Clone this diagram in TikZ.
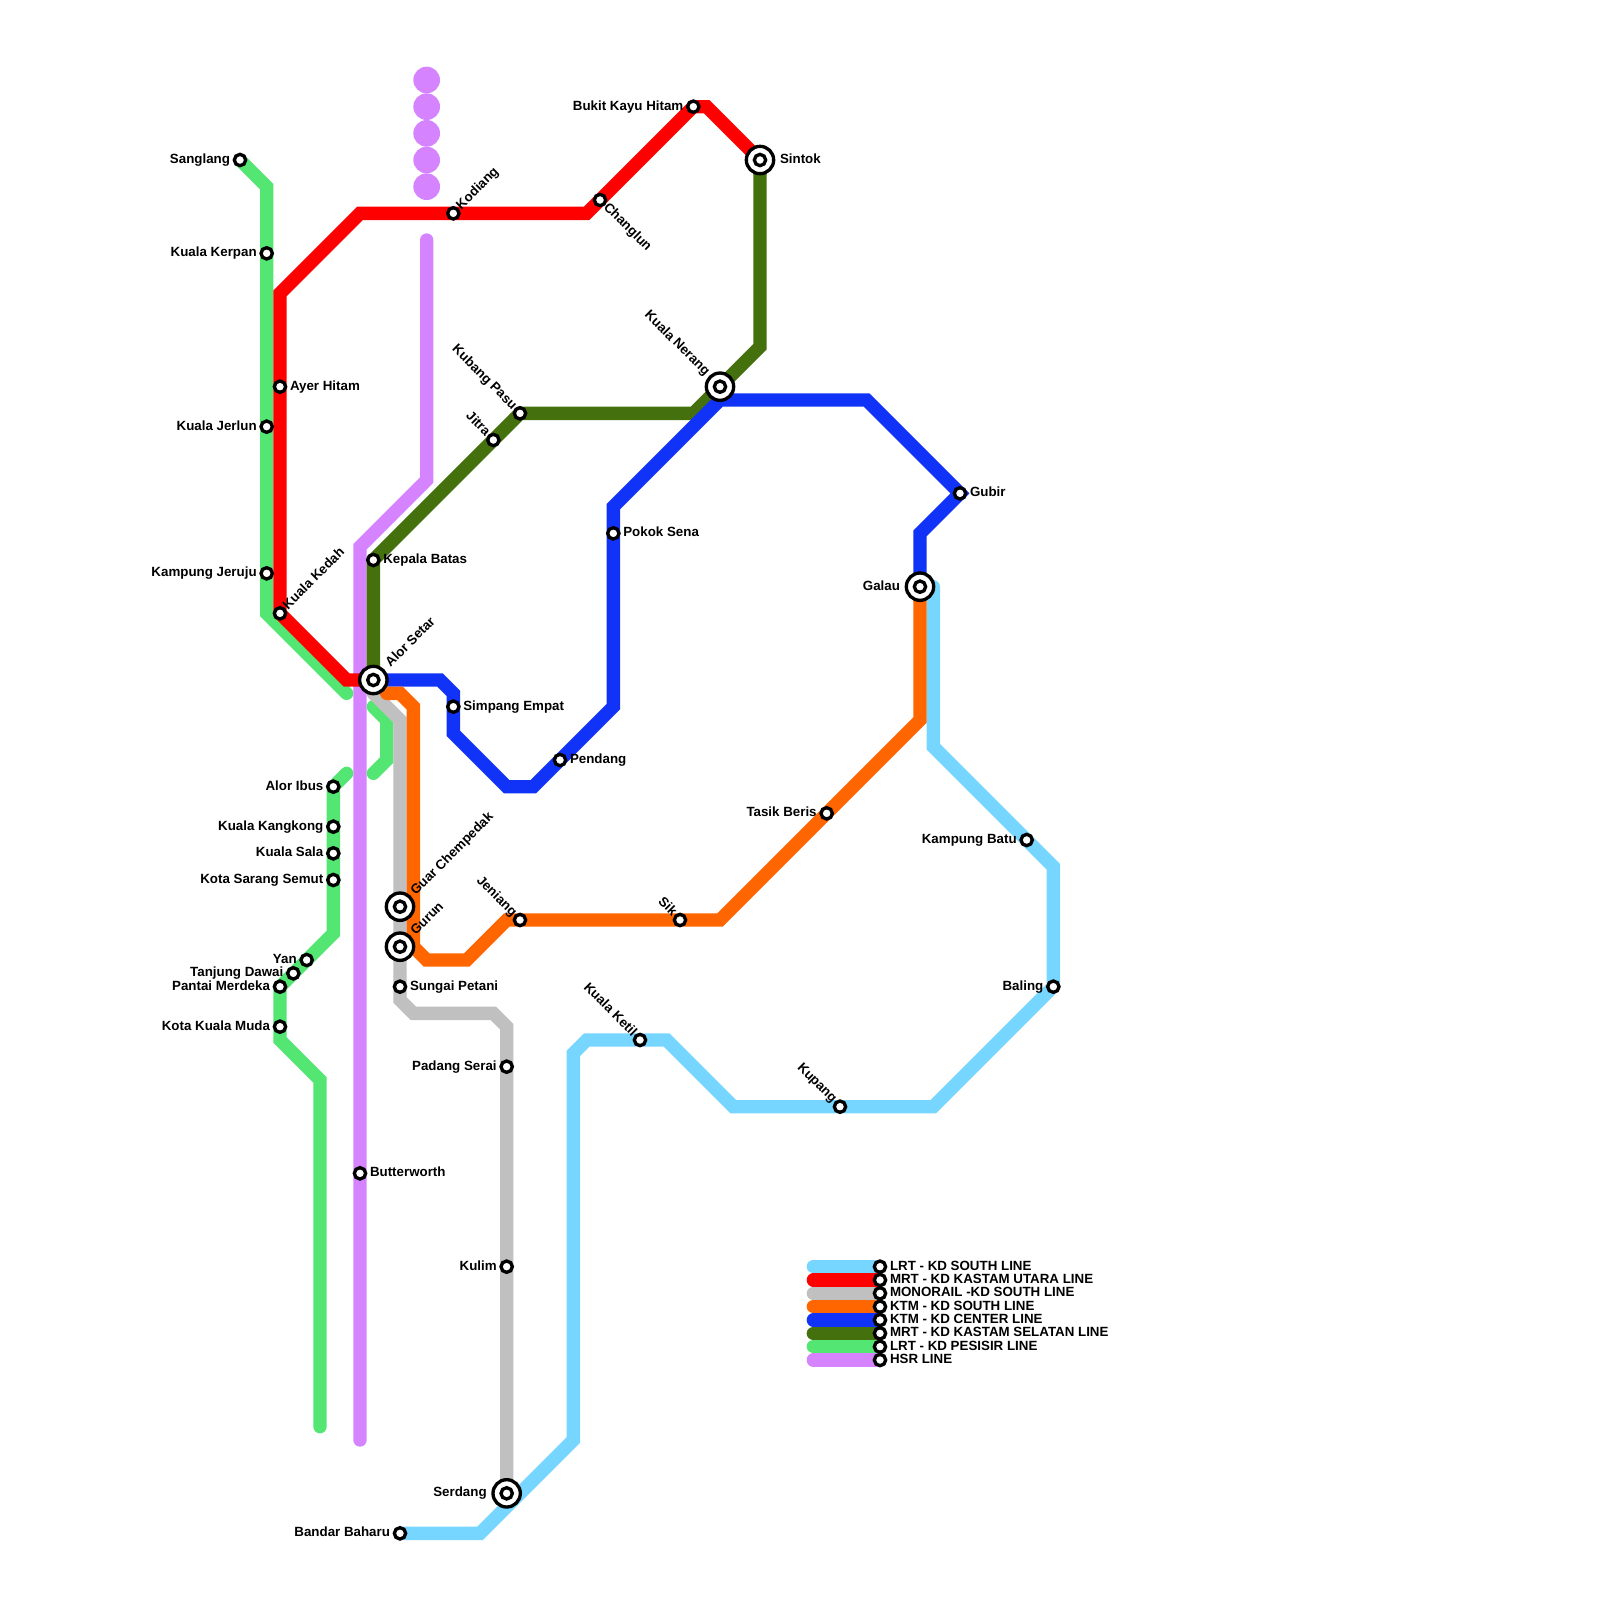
\documentclass[tikz,border=0pt]{standalone}
\usepackage{fontspec}
\setmainfont{Liberation Sans}
\pgfdeclarelayer{lines}
\pgfsetlayers{lines,main}
\definecolor{cLb}{HTML}{76D6FF}
\definecolor{cRe}{HTML}{FF0000}
\definecolor{cGy}{HTML}{C0C0C0}
\definecolor{cOr}{HTML}{FF6600}
\definecolor{cBl}{HTML}{1133F8}
\definecolor{cDg}{HTML}{45700E}
\definecolor{cGr}{HTML}{54E673}
\definecolor{cPu}{HTML}{D683FF}
\tikzset{
  x=6.6667pt,y=-6.6667pt,
  ln/.style={line width=6.6667pt,line cap=round,line join=miter},
  stn/.style={circle,draw=black,fill=white,line width=1.667pt,minimum size=5.67pt,inner sep=0pt,outer sep=0pt},
  xchg/.style={circle,draw=black,fill=white,line width=1.667pt,minimum size=13.67pt,inner sep=0pt,outer sep=0pt,
     label={[stn]center:{}}},
  txt/.style={font=\bfseries\fontsize{6.667}{8}\selectfont,inner sep=0pt,text=black,text height=4.9pt,text depth=1.4pt},
  lblR/.style={txt,anchor=west,outer sep=#1},lblR/.default=5pt,
  lblL/.style={txt,anchor=east,outer sep=#1},lblL/.default=5pt,
  lblUR/.style={txt,anchor=west,rotate=45,outer sep=#1},lblUR/.default=4pt,
  lblUL/.style={txt,anchor=east,rotate=-45,outer sep=#1},lblUL/.default=4pt,
  lblDR/.style={txt,anchor=west,rotate=-45,outer sep=#1},lblDR/.default=4pt,
  hsrdot/.style={circle,fill=cPu,minimum size=13.333pt,inner sep=0pt},
}
\newcommand\ST[5]{\node[stn] (#1) at (#2,#3) {}; \node[#4] (#1-t) at (#1.center) {#5};}
\newcommand\XC[5]{\node[xchg] (#1) at (#2,#3) {}; \node[#4] (#1-t) at (#1.center) {#5};}
\begin{document}
\begin{tikzpicture}
\useasboundingbox (0,0) rectangle (120,120);
% interchanges
\XC{alor}{28}{51}{lblUR=10.5pt}{Alor Setar}
\XC{sintok}{57}{12}{lblR=10pt}{Sintok}
\XC{nerang}{54}{29}{lblUL=9pt}{Kuala Nerang}
\XC{galau}{69}{44}{lblL=10pt}{Galau}
\XC{guar}{30}{68}{lblUR=9.5pt}{Guar Chempedak}
\XC{gurun}{30}{71}{lblUR=9.5pt}{Gurun}
\XC{serdang}{38}{112}{lblL=10pt}{Serdang}
% red
\ST{ayer}{21}{29}{lblR}{Ayer Hitam}
\ST{kedah}{21}{46}{lblUR}{Kuala Kedah}
\ST{kodiang}{34}{16}{lblUR}{Kodiang}
\ST{changlun}{45}{15}{lblDR}{Changlun}
\ST{bukit}{52}{8}{lblL}{Bukit Kayu Hitam}
% pesisir
\ST{sanglang}{18}{12}{lblL}{Sanglang}
\ST{kerpan}{20}{19}{lblL}{Kuala Kerpan}
\ST{jerlun}{20}{32}{lblL}{Kuala Jerlun}
\ST{jeruju}{20}{43}{lblL}{Kampung Jeruju}
\ST{ibus}{25}{59}{lblL}{Alor Ibus}
\ST{kangkong}{25}{62}{lblL}{Kuala Kangkong}
\ST{sala}{25}{64}{lblL}{Kuala Sala}
\ST{semut}{25}{66}{lblL}{Kota Sarang Semut}
\ST{yan}{23}{72}{lblL}{Yan}
\ST{dawai}{22}{73}{lblL}{Tanjung Dawai}
\ST{merdeka}{21}{74}{lblL}{Pantai Merdeka}
\ST{muda}{21}{77}{lblL}{Kota Kuala Muda}
% hsr
\ST{butter}{27}{88}{lblR}{Butterworth}
% dark green
\ST{pasu}{39}{31}{lblUL}{Kubang Pasu}
\ST{jitra}{37}{33}{lblUL}{Jitra}
\ST{kepala}{28}{42}{lblR}{Kepala Batas}
% blue
\ST{simpang}{34}{53}{lblR}{Simpang Empat}
\ST{pendang}{42}{57}{lblR}{Pendang}
\ST{pokok}{46}{40}{lblR}{Pokok Sena}
\ST{gubir}{72}{37}{lblR}{Gubir}
% orange
\ST{beris}{62}{61}{lblL}{Tasik Beris}
\ST{sik}{51}{69}{lblUL}{Sik}
\ST{jeniang}{39}{69}{lblUL}{Jeniang}
% grey
\ST{petani}{30}{74}{lblR}{Sungai Petani}
\ST{serai}{38}{80}{lblL}{Padang Serai}
\ST{kulim}{38}{95}{lblL}{Kulim}
% light blue
\ST{baharu}{30}{115}{lblL}{Bandar Baharu}
\ST{ketil}{48}{78}{lblUL}{Kuala Ketil}
\ST{kupang}{63}{83}{lblUL}{Kupang}
\ST{baling}{79}{74}{lblL}{Baling}
\ST{batu}{77}{63}{lblL}{Kampung Batu}
% legend
\ST{leg1}{66}{95}{lblR}{LRT - KD SOUTH LINE}
\ST{leg2}{66}{96}{lblR}{MRT - KD KASTAM UTARA LINE}
\ST{leg3}{66}{97}{lblR}{MONORAIL -KD SOUTH LINE}
\ST{leg4}{66}{98}{lblR}{KTM - KD SOUTH LINE}
\ST{leg5}{66}{99}{lblR}{KTM - KD CENTER LINE}
\ST{leg6}{66}{100}{lblR}{MRT - KD KASTAM SELATAN LINE}
\ST{leg7}{66}{101}{lblR}{LRT - KD PESISIR LINE}
\ST{leg8}{66}{102}{lblR}{HSR LINE}
\coordinate (s1) at (61,95);
\coordinate (s2) at (61,96);
\coordinate (s3) at (61,97);
\coordinate (s4) at (61,98);
\coordinate (s5) at (61,99);
\coordinate (s6) at (61,100);
\coordinate (s7) at (61,101);
\coordinate (s8) at (61,102);
\begin{pgfonlayer}{lines}
\fill[white] (0,0) rectangle (120,120);
% HSR
\node[hsrdot] (h1) at (32,6) {};
\node[hsrdot] (h2) at (32,8) {};
\node[hsrdot] (h3) at (32,10) {};
\node[hsrdot] (h4) at (32,12) {};
\node[hsrdot] (h5) at (32,14) {};
\draw[ln,cPu] (32,18) -- (32,36) -- (27,41) -- (butter.center) -- (27,108);
% pesisir
\draw[ln,cGr] (sanglang.center) -- (20,14) -- (kerpan.center) -- (jerlun.center) -- (jeruju.center) -- (20,46) -- (26,52);
\draw[ln,cGr] (28,53) -- (29,54) -- (29,57) -- (28,58);
\draw[ln,cGr] (26,58) -- (ibus.center) -- (kangkong.center) -- (sala.center) -- (semut.center) -- (25,70) -- (yan.center) -- (dawai.center) -- (merdeka.center) -- (muda.center) -- (21,78) -- (24,81) -- (24,107);
% light blue
\draw[ln,cLb] (baharu.center) -- (36,115) -- (43,108) -- (43,79) -- (44,78) -- (ketil.center) -- (50,78) -- (55,83) -- (kupang.center) -- (70,83) -- (baling.center) -- (79,65) -- (batu.center) -- (70,56) -- (70,44);
% grey
\draw[ln,cGy] (28,52) -- (30,54) -- (guar.center) -- (gurun.center) -- (petani.center) -- (30,75) -- (31,76) -- (37,76) -- (38,77) -- (serai.center) -- (kulim.center) -- (serdang.center);
% dark green
\draw[ln,cDg] (sintok.center) -- (57,26) -- (nerang.center) -- (52,31) -- (pasu.center) -- (jitra.center) -- (kepala.center) -- (alor.center);
% blue
\draw[ln,cBl] (alor.center) -- (33,51) -- (34,52) -- (simpang.center) -- (34,55) -- (38,59) -- (40,59) -- (pendang.center) -- (46,53) -- (pokok.center) -- (46,38) -- (54,30) -- (65,30) -- (gubir.center) -- (69,40) -- (galau.center);
% orange
\draw[ln,cOr] (galau.center) -- (69,54) -- (beris.center) -- (54,69) -- (sik.center) -- (jeniang.center) -- (38,69) -- (35,72) -- (32,72) -- (31,71) -- (31,53) -- (30,52) -- (29,52);
% red
\draw[ln,cRe] (alor.center) -- (26,51) -- (kedah.center) -- (ayer.center) -- (21,22) -- (27,16) -- (kodiang.center) -- (44,16) -- (changlun.center) -- (bukit.center) -- (53,8) -- (sintok.center);
% legend
\draw[ln,cPu] (s8) -- (leg8.center);
\draw[ln,cGr] (s7) -- (leg7.center);
\draw[ln,cDg] (s6) -- (leg6.center);
\draw[ln,cBl] (s5) -- (leg5.center);
\draw[ln,cOr] (s4) -- (leg4.center);
\draw[ln,cGy] (s3) -- (leg3.center);
\draw[ln,cRe] (s2) -- (leg2.center);
\draw[ln,cLb] (s1) -- (leg1.center);
\end{pgfonlayer}
\end{tikzpicture}
\end{document}
